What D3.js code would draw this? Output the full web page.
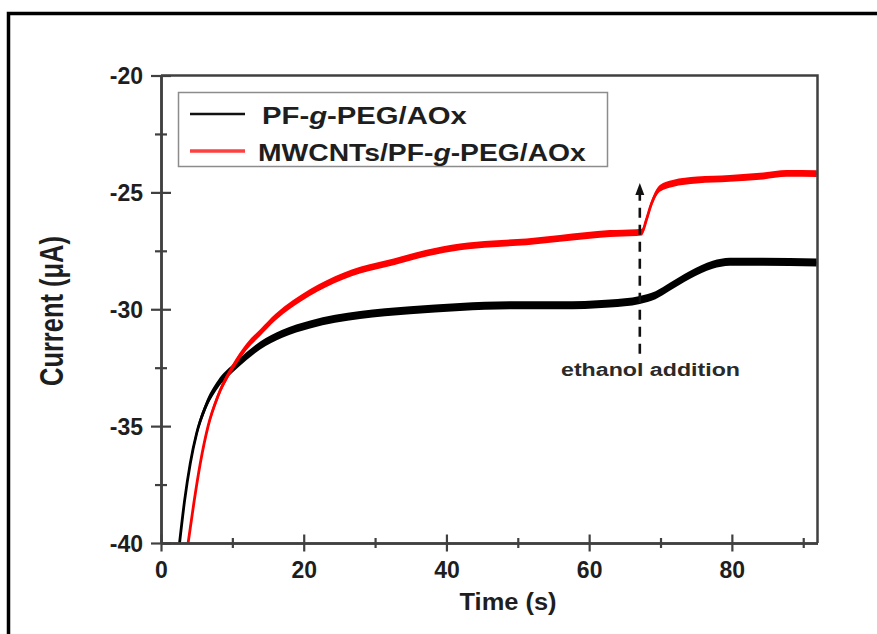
<!DOCTYPE html>
<html>
<head>
<meta charset="utf-8">
<script src="https://cdn.jsdelivr.net/npm/d3@7"></script>
<style>
  html, body { margin: 0; padding: 0; background: #fff; }
  svg { display: block; }
  text { font-family: "Liberation Sans", Arial, Helvetica, sans-serif; font-weight: bold; }
</style>
</head>
<body>
<svg id="chart" width="877" height="634"></svg>
<script>
// Amperometric response of the two electrodes (time in s, current in µA)
const timePF = [2.6, 3.3, 4.1, 5.0, 6.2, 8, 10, 12, 13.9, 17, 20.9, 27.9, 34.9, 41.9, 48.9, 55.9, 62.9, 67.1, 69.3, 71.3, 74.1, 77.3, 79.7, 84.3, 91.9];
const currentPF = [-40, -38.2, -36.6, -35.3, -34.2, -33.2, -32.55, -32.0, -31.55, -31.05, -30.65, -30.25, -30.04, -29.9, -29.83, -29.83, -29.75, -29.6, -29.4, -29.04, -28.54, -28.1, -27.97, -27.97, -28.0];

const timeMW = [3.8, 4.6, 5.5, 6.6, 8.0, 10, 12, 13.9, 16, 18.5, 23.2, 27.9, 32.6, 37.2, 41.9, 46.5, 51.2, 55.9, 62.9, 66.6, 67.4, 68.0, 68.75, 69.9, 71.7, 75.1, 79.7, 84.4, 87.7, 91.9];
const currentMW = [-40, -38.3, -36.6, -35.0, -33.7, -32.5, -31.6, -31.0, -30.35, -29.75, -28.9, -28.33, -27.97, -27.6, -27.33, -27.2, -27.12, -26.97, -26.76, -26.72, -26.7, -26.19, -25.47, -24.83, -24.62, -24.47, -24.4, -24.3, -24.19, -24.2];

const seriesLabels = [["PF-", "g", "-PEG/AOx"], ["MWCNTs/PF-", "g", "-PEG/AOx"]];
const seriesColors = ["#000000", "#ff0000"];
const legendColors = ["#111111", "#ff4040"];

const xMajorTicks = [0, 20, 40, 60, 80];
const xMinorTicks = [10, 30, 50, 70, 90];
const yMajorTicks = [-40, -35, -30, -25, -20];
const yMinorTicks = [-37.5, -32.5, -27.5, -22.5];

const xTitle = "Time (s)";
const yTitle = "Current (\u03bcA)";

// ethanol injection marker
const additionTime = 67.1;
const arrowFrom = -31.9;
const arrowTo = -24.6;
const additionLabel = "ethanol addition";

const svg = d3.select("#chart");
const axisColor = "#404040";

const x = d3.scaleLinear().domain([0, 92]).range([161, 817.5]);
const y = d3.scaleLinear().domain([-40, -20]).range([543, 75.5]);

// outer frame
svg.append("rect")
  .attr("x", 8.5).attr("y", 13.5)
  .attr("width", 900).attr("height", 700)
  .attr("fill", "none").attr("stroke", "#000").attr("stroke-width", 3.5);

svg.append("clipPath").attr("id", "plotClip")
  .append("rect")
  .attr("x", x(0)).attr("y", y(-20))
  .attr("width", x(92) - x(0)).attr("height", y(-40) - y(-20));

// noisy traces: a vertical band plus a core line
function drawTrace(times, values, color, half, width) {
  const pts = times.map((t, i) => [t, values[i]]);
  const g = svg.append("g").attr("clip-path", "url(#plotClip)");
  g.append("path").datum(pts)
    .attr("fill", color)
    .attr("d", d3.area()
      .x(d => x(d[0]))
      .y0(d => y(d[1]) - half)
      .y1(d => y(d[1]) + half)
      .curve(d3.curveMonotoneX));
  g.append("path").datum(pts)
    .attr("fill", "none")
    .attr("stroke", color)
    .attr("stroke-width", width)
    .attr("d", d3.line().x(d => x(d[0])).y(d => y(d[1])).curve(d3.curveMonotoneX));
}
drawTrace(timePF, currentPF, seriesColors[0], 4, 2.8);
drawTrace(timeMW, currentMW, seriesColors[1], 3.4, 2.8);

// plot box top and right edges
svg.append("path")
  .attr("d", `M${x(0)},${y(-20)}H${x(92)}V${y(-40)}`)
  .attr("fill", "none").attr("stroke", axisColor).attr("stroke-width", 2.5);

// axes with ticks crossing the axis line
function styleAxis(g, cross, horizontal) {
  g.select(".domain").attr("stroke", axisColor).attr("stroke-width", 2.5);
  g.selectAll(".tick line").attr("stroke", axisColor).attr("stroke-width", 2.2)
    .attr(horizontal ? "y1" : "x1", -cross).attr(horizontal ? "y2" : "x2", cross);
}

const xMinor = svg.append("g").attr("transform", `translate(0,${y(-40)})`)
  .call(d3.axisBottom(x).tickValues(xMinorTicks).tickFormat("").tickSizeOuter(0));
styleAxis(xMinor, 5, true);
const xMajor = svg.append("g").attr("transform", `translate(0,${y(-40)})`)
  .call(d3.axisBottom(x).tickValues(xMajorTicks).tickFormat(d3.format("d")).tickSizeOuter(0));
styleAxis(xMajor, 8.5, true);
xMajor.selectAll(".tick text")
  .attr("y", 35).attr("dy", 0)
  .attr("fill", "#1e1e1e").attr("font-size", 23).attr("font-family", null);

const yMinor = svg.append("g").attr("transform", `translate(${x(0)},0)`)
  .call(d3.axisLeft(y).tickValues(yMinorTicks).tickFormat("").tickSizeOuter(0));
styleAxis(yMinor, 6, false);
const yMajor = svg.append("g").attr("transform", `translate(${x(0)},0)`)
  .call(d3.axisLeft(y).tickValues(yMajorTicks).tickFormat(d3.format("d")).tickSizeOuter(0));
styleAxis(yMajor, 10, false);
yMajor.selectAll(".tick text")
  .attr("x", -18).attr("dy", "0.36em")
  .attr("fill", "#1e1e1e").attr("font-size", 23).attr("font-family", null);
svg.selectAll(".tick text").text(function () { return this.textContent.replace("\u2212", "-"); });

// axis titles
svg.append("text")
  .attr("x", 508).attr("y", 610)
  .attr("text-anchor", "middle")
  .attr("font-size", 23).attr("fill", "#1e1e1e")
  .attr("textLength", 97).attr("lengthAdjust", "spacingAndGlyphs")
  .text(xTitle);

svg.append("text")
  .attr("transform", "translate(63,311) rotate(-90)")
  .attr("text-anchor", "middle")
  .attr("font-size", 34).attr("fill", "#1e1e1e")
  .attr("textLength", 150).attr("lengthAdjust", "spacingAndGlyphs")
  .text(yTitle);

// ethanol addition arrow
const ax = x(additionTime);
const headLen = 12;
svg.append("line")
  .attr("x1", ax).attr("x2", ax)
  .attr("y1", y(arrowFrom)).attr("y2", y(arrowTo) + headLen - 1)
  .attr("stroke", "#111").attr("stroke-width", 2.6)
  .attr("stroke-dasharray", "10,7");
svg.append("path")
  .attr("d", `M${ax},${y(arrowTo)}L${ax - 4.5},${y(arrowTo) + headLen}L${ax + 4.5},${y(arrowTo) + headLen}Z`)
  .attr("fill", "#111");
svg.append("text")
  .attr("x", 561).attr("y", 376)
  .attr("font-size", 18).attr("fill", "#2a2a2a")
  .attr("textLength", 179).attr("lengthAdjust", "spacingAndGlyphs")
  .text(additionLabel);

// legend
const legend = svg.append("g");
legend.append("rect")
  .attr("x", 178.5).attr("y", 92.5).attr("width", 429).attr("height", 74)
  .attr("fill", "#fff").attr("stroke", "#8c8c8c").attr("stroke-width", 1.5);
const rowY = [114, 151];
const labelX = [262, 258];
const labelWidth = [205, 328];
seriesLabels.forEach((parts, i) => {
  legend.append("line")
    .attr("x1", 190).attr("x2", 245).attr("y1", rowY[i]).attr("y2", rowY[i])
    .attr("stroke", legendColors[i]).attr("stroke-width", i === 0 ? 2.5 : 3.5);
  const t = legend.append("text")
    .attr("font-size", 23).attr("fill", "#1e1e1e");
  parts.forEach((p, j) => {
    t.append("tspan").attr("font-style", j === 1 ? "italic" : null).text(p);
  });
  const natural = t.node().getComputedTextLength();
  t.attr("transform", `translate(${labelX[i]},${rowY[i] + 10}) scale(${labelWidth[i] / natural},1)`);
});
</script>
</body>
</html>
